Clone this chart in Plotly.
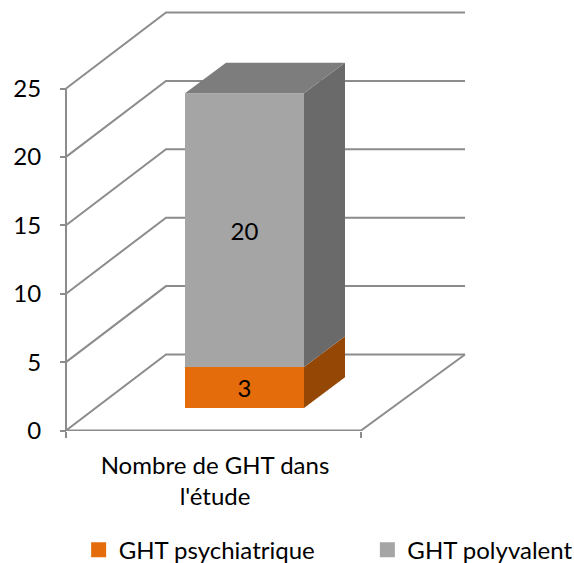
import plotly.graph_objects as go

# ---- data ----
category = "Nombre de GHT dans<br>l'étude"
series_names = ["GHT psychiatrique", "GHT polyvalent"]
series_values = [3, 20]
y_ticks = [0, 5, 10, 15, 20, 25]

# ---- styles ----
FRONT = ["#E46C0A", "#A5A5A5"]
SIDE = ["#954806", "#6A6A6A"]
TOP = "#7D7D7D"
GRID = "#8C8C8C"
FONT = "Lato"
FS = 24
W, H = 574, 563

# ---- projection of the 3D box (axis units: x = screen px, y = value) ----
PLOT_BOTTOM = 431
ZERO_PX = 430.5
UNIT = 13.68
X0, X1 = 66, 361
WALL_DX, WALL_DV = 100, 76 / UNIT
BAR_LEFT, BAR_RIGHT = 185, 304
BAR_BASE = (ZERO_PX - 408) / UNIT
BAR_DX, BAR_DV = 41, 30.7 / UNIT

y_min = (ZERO_PX - PLOT_BOTTOM) / UNIT
y_max = ZERO_PX / UNIT

fig = go.Figure()

# wireframe (primary axes, underneath)
def wire(xs, ys):
    fig.add_trace(go.Scatter(x=xs, y=ys, mode="lines", showlegend=False, hoverinfo="skip",
                             line=dict(color=GRID, width=2)))

wire([X0, X0], [y_ticks[0], y_ticks[-1]])
for v in y_ticks:
    wire([X0, X0 + WALL_DX, X1 + 4 + WALL_DX], [v, v + WALL_DV, v + WALL_DV])
wire([X0, X1, X1 + 4 + WALL_DX], [0, 0, WALL_DV])

# bars (overlay axes, on top of the wireframe)
cx = (BAR_LEFT + BAR_RIGHT) / 2
bw = BAR_RIGHT - BAR_LEFT
base = BAR_BASE
for name, val, front, side in zip(series_names, series_values, FRONT, SIDE):
    fig.add_trace(go.Bar(x=[cx], y=[val], base=[base], width=[bw], name=name, showlegend=False,
                         marker=dict(color=front, line=dict(width=0)),
                         text=[str(val)], textposition="inside", insidetextanchor="middle",
                         textangle=0, textfont=dict(family=FONT, size=FS, color="#000000"),
                         xaxis="x2", yaxis="y2"))
    fig.add_trace(go.Scatter(
        x=[BAR_RIGHT, BAR_RIGHT + BAR_DX, BAR_RIGHT + BAR_DX, BAR_RIGHT, BAR_RIGHT],
        y=[base, base + BAR_DV, base + val + BAR_DV, base + val, base],
        mode="lines", fill="toself", fillcolor=side, line=dict(width=0), showlegend=False,
        hoverinfo="skip", xaxis="x2", yaxis="y2"))
    base += val

fig.add_trace(go.Scatter(
    x=[BAR_LEFT, BAR_RIGHT, BAR_RIGHT + BAR_DX, BAR_LEFT + BAR_DX, BAR_LEFT],
    y=[base, base, base + BAR_DV, base + BAR_DV, base],
    mode="lines", fill="toself", fillcolor=TOP, line=dict(width=0), showlegend=False,
    hoverinfo="skip", xaxis="x2", yaxis="y2"))

# legend entries, one legend box per series
for name, front, lg in zip(series_names, FRONT, ["legend", "legend2"]):
    fig.add_trace(go.Scatter(x=[None], y=[None], mode="markers", name=name, legend=lg,
                             marker=dict(symbol="square", size=15, color=front)))

legend_style = dict(xanchor="left", yanchor="top", y=-0.224, itemsizing="trace",
                    font=dict(family=FONT, size=FS), bgcolor="rgba(0,0,0,0)")

fig.update_layout(
    width=W, height=H, autosize=False,
    margin=dict(l=0, r=0, t=0, b=H - PLOT_BOTTOM, pad=0, autoexpand=False),
    paper_bgcolor="white", plot_bgcolor="white",
    barmode="overlay", font=dict(family=FONT, size=FS, color="#000000"),
    xaxis=dict(range=[0, W], showgrid=False, zeroline=False, showline=False, automargin=False,
               tickmode="array", tickvals=[(X0 + X1) / 2 + 1.5], ticktext=[category], ticks="",
               ticklabelstandoff=18, tickfont=dict(family=FONT, size=FS),
               minor=dict(tickmode="array", tickvals=[X0, X1], ticks="outside", ticklen=6,
                          tickwidth=2, tickcolor=GRID, showgrid=False)),
    yaxis=dict(range=[y_min, y_max], showgrid=False, zeroline=False, showline=False,
               automargin=False, anchor="free", position=X0 / W, side="left",
               tickmode="array", tickvals=y_ticks, ticks="outside", ticklen=6, tickwidth=2,
               ticklabelstandoff=14, tickcolor=GRID, tickfont=dict(family=FONT, size=FS)),
    xaxis2=dict(range=[0, W], overlaying="x", visible=False),
    yaxis2=dict(range=[y_min, y_max], overlaying="y", visible=False),
    legend=dict(x=0.137, **legend_style),
    legend2=dict(x=0.64, **legend_style),
    showlegend=True,
)

fig.write_html("out.html", config=dict(displayModeBar=False),
               post_script="document.body.style.margin='0';")
